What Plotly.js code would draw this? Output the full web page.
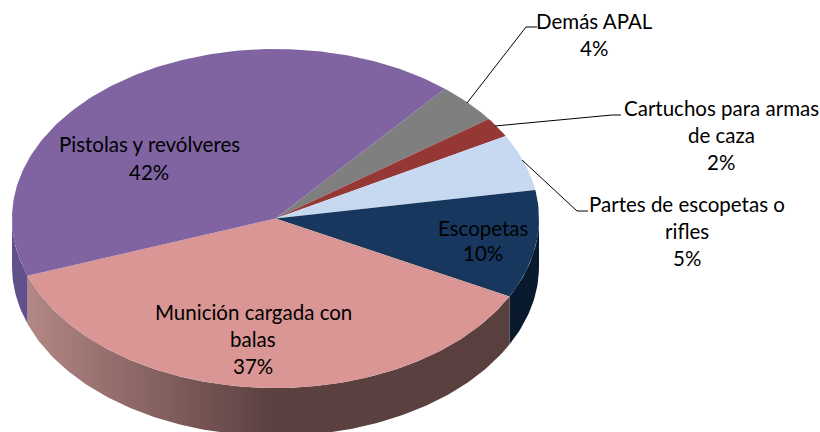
<!DOCTYPE html>
<html><head><meta charset="utf-8">
<script src="https://cdn.plot.ly/plotly-3.0.1.min.js"></script>
<style>html,body{margin:0;padding:0;background:#fff}#c{width:820px;height:432px}</style>
</head><body><div id="c"></div>
<script>
// Data, clockwise from the top-right start angle
const categories = ["Demás APAL","Cartuchos para armas de caza","Partes de escopetas o rifles","Escopetas","Munición cargada con balas","Pistolas y revólveres"];
const values = [3.9,1.9,5.4,10.3,36.9,41.6];
const labelLines = [["Demás APAL"],["Cartuchos para armas","de caza"],["Partes de escopetas o","rifles"],["Escopetas"],["Munición cargada con","balas"],["Pistolas y revólveres"]];
const topColors = ["#7f7f7f","#953735","#c6d9f1","#17375e","#d99694","#8064a2"];
const sideColors = [null,null,null,"#0a1a2e",null,"#62508a"];

// Layout (pixel-space axes)
const W=820,H=432,cx=275.5,cy=218.5,rx=263.5,ry=169.5,depth=48,startDeg=50;
const labelPos=[[594,21,27],[721,108,27],[687,204,27],[483,228,25],[253,312,27],[149,144,28]];
const leaders=[[[467,526,537],[103,27,27]],[[495,612,621],[126,115,115]],[[522,577,588],[160,211,211]]];
const FONT="Lato, Carlito, sans-serif", FS=20.5;

const total=values.reduce((a,b)=>a+b,0);
const pt=(deg,dy=0)=>[cx+rx*Math.cos(deg*Math.PI/180),cy-ry*Math.sin(deg*Math.PI/180)+dy];
function arc(a,b,dy){const n=Math.max(2,Math.ceil(Math.abs(b-a)));const o=[];for(let i=0;i<=n;i++)o.push(pt(a+(b-a)*i/n,dy));return o;}
function poly(points,color,extra){return Object.assign({type:"scatter",mode:"lines",x:points.map(p=>p[0]),y:points.map(p=>p[1]),fill:"toself",fillcolor:color,line:{width:0,color:color},hoverinfo:"skip",showlegend:false},extra||{});}

const sides=[],tops=[];
let ang=startDeg;
values.forEach((v,i)=>{
  const end=ang-v/total*360;
  tops.push(poly([[cx,cy],...arc(ang,end,0),[cx,cy]],topColors[i]));
  // visible wall: the part of the slice on the front half of the ellipse
  const a0=Math.min(ang,0),a1=Math.max(end,-180);
  if(a0>a1){
    const pts=[...arc(a0,a1,0),...arc(a1,a0,depth)];
    if(sideColors[i]) sides.push(poly(pts,sideColors[i]));
    else sides.push(poly(pts,"#7d5f5e",{fillgradient:{type:"horizontal",colorscale:[[0,"#b38784"],[0.5,"#5c4141"],[1,"#5a3f3f"]]}}));
  }
  ang=end;
});

const leaderTraces=leaders.map(l=>({type:"scatter",mode:"lines",x:l[0],y:l[1],line:{color:"#000",width:1},hoverinfo:"skip",showlegend:false}));

const annotations=[];
categories.forEach((c,i)=>{
  const lines=[...labelLines[i],Math.round(values[i]/total*100)+"%"];
  const [x,y,step]=labelPos[i];
  lines.forEach((t,j)=>annotations.push({x:x,y:y+j*step,xref:"x",yref:"y",text:t,showarrow:false,xanchor:"center",yanchor:"middle",font:{family:FONT,size:FS,color:"#000"}}));
});

Plotly.newPlot("c",[...sides,...tops,...leaderTraces],{
  width:W,height:H,margin:{l:0,r:0,t:0,b:0},paper_bgcolor:"#fff",plot_bgcolor:"#fff",showlegend:false,
  xaxis:{range:[0,W],visible:false,fixedrange:true},
  yaxis:{range:[H,0],visible:false,fixedrange:true},
  annotations:annotations
},{displayModeBar:false,staticPlot:true});
</script></body></html>
